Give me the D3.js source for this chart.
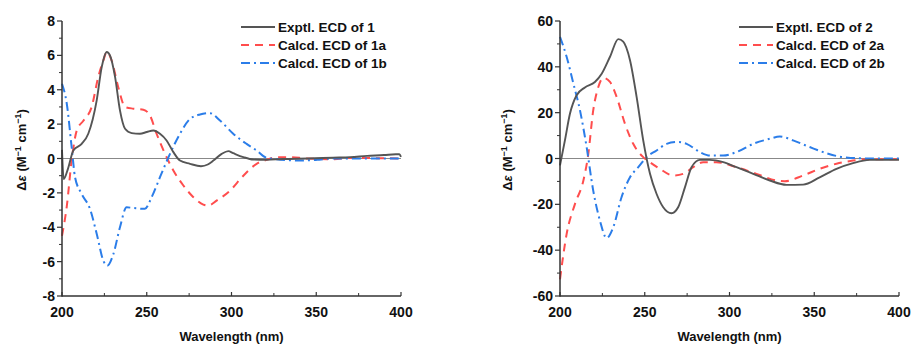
<!DOCTYPE html>
<html><head><meta charset="utf-8">
<script src="https://cdn.jsdelivr.net/npm/d3@7"></script>
<style>
body{margin:0;background:#fff;}
text{font-family:"Liberation Sans",Arial,sans-serif;font-weight:bold;fill:#111;}
</style></head>
<body><svg id="c" width="913" height="345"></svg>
<script>
// ---- Data (wavelength nm, Δε) ----
const exp1 = [[200,0.5],[201,-1.2],[203.5,-0.6],[206.7,0.47],[211.6,0.85],[215.5,1.44],[220.5,3.4],[223.4,5.3],[226.4,6.2],[228.3,6.0],[231.3,4.75],[234.2,2.8],[237.2,1.73],[241.1,1.48],[246,1.44],[250,1.54],[253.9,1.63],[257.8,1.44],[261.7,1.05],[265.7,0.37],[269.6,-0.12],[275.5,-0.31],[282,-0.45],[286,-0.35],[289.3,-0.12],[294.2,0.27],[298.1,0.43],[301,0.31],[307,0.08],[312.9,-0.06],[320.7,-0.08],[330,-0.03],[345,0.0],[360,0.05],[370,0.08],[380,0.15],[390,0.2],[397,0.25],[399,0.25],[400,0.1]];
const calc1a = [[200,-4.5],[202.8,-2.8],[205.7,-0.1],[208.7,1.63],[212.6,2.2],[217.5,3.0],[221.4,4.75],[224.4,5.7],[226.4,6.2],[229.3,5.7],[233.2,4.15],[237.2,3.0],[242.1,2.9],[248,2.84],[251.9,2.5],[255.8,1.44],[260.8,0.27],[265.7,-0.7],[271.6,-1.57],[277.5,-2.25],[283.4,-2.68],[286.3,-2.74],[291.2,-2.45],[299.1,-1.87],[307,-1.0],[314.8,-0.31],[320.7,-0.08],[326.6,0.08],[334.5,0.08],[344.3,0],[360,-0.04],[370,0.03],[385,0.02],[400,0.0]];
const calc1b = [[200,4.35],[202.8,3.2],[205.7,0.66],[207.7,-1.09],[211.6,-2.06],[216.5,-2.93],[220.5,-4.39],[224.4,-5.95],[226.7,-6.24],[230.3,-5.56],[234.2,-4.0],[238.1,-2.84],[242.1,-2.88],[248.9,-2.93],[252.9,-2.25],[257.8,-1.09],[263.7,0.27],[269.6,1.44],[275.5,2.3],[281.4,2.56],[287.3,2.64],[293.2,2.21],[301,1.44],[308.9,0.85],[314.8,0.47],[320.7,0.04],[326.6,-0.04],[340.4,-0.12],[350.2,-0.08],[360,0],[380,0],[400,0]];
const exp2 = [[200,-3],[202.9,7.9],[205.9,19.6],[209.8,27.6],[214.7,31],[220.6,33.4],[224.6,37],[229.5,44.4],[234.4,52.1],[237.3,51],[241.3,42.9],[245.2,26.9],[249.1,7.9],[253.1,-6.7],[257,-15.5],[260.9,-21.3],[265.8,-23.9],[269.7,-21.3],[273.7,-12.6],[277.6,-3.8],[282.5,-0.6],[288.4,-0.6],[296.3,-1.6],[304.1,-3.8],[314,-6.7],[323.8,-9.6],[333.6,-11.5],[343.4,-11.4],[353.2,-8.2],[363.1,-4.5],[372.9,-2],[382.7,-0.6],[400,-0.6]];
const calc2a = [[200,-52.7],[203.9,-33],[208.8,-19.9],[213.8,-9.6],[216.7,2],[219.6,21],[222.6,31.2],[225.5,35.2],[229.5,33.4],[233.4,26.9],[238.3,15.2],[243.2,6.4],[249.1,0.6],[253,-1.6],[258.9,-4.5],[266.8,-7.4],[272.7,-6.7],[278.6,-3.8],[284.5,-1.6],[292.3,-1.6],[304.1,-3.8],[315.9,-6.7],[327.7,-9.6],[332.6,-9.9],[343.4,-7.4],[353.2,-4.5],[363.1,-2.3],[372.9,-0.9],[382.7,-0.3],[400,-0.3]];
const calc2b = [[200,53.1],[203.9,44.4],[207.9,32.7],[211.8,21],[215.7,5],[219.6,-14],[223.6,-27.2],[227.5,-34.7],[231.4,-30],[236.3,-16.9],[241.3,-8.2],[246.2,-3.8],[251.1,0.6],[257,3.5],[262.9,6.4],[268.8,7.2],[274.7,6.4],[282.5,2.8],[288.4,1.3],[296.3,1.3],[304.1,2.8],[314,6.4],[323.8,8.6],[329.7,9.6],[337.5,7.9],[347.3,5],[357.2,2.3],[367,0.6],[382.7,0],[400,0]];

const xTicks = [200,250,300,350,400];
const yTicks1 = [-8,-6,-4,-2,0,2,4,6,8];
const yTicks2 = [-60,-40,-20,0,20,40,60];
const legend1 = ["Exptl. ECD of 1","Calcd. ECD of 1a","Calcd. ECD of 1b"];
const legend2 = ["Exptl. ECD of 2","Calcd. ECD of 2a","Calcd. ECD of 2b"];

const styles = [
  {color:"#555555", dash:null, width:1.9},
  {color:"#ff4d4d", dash:"8,6", width:2},
  {color:"#2b7de9", dash:"9,4,2,4", width:2}
];

const svg = d3.select("#c");

function panel(cfg){
  const x = d3.scaleLinear().domain([200,400]).range([cfg.x0, cfg.x1]);
  const y = d3.scaleLinear().domain(cfg.yDomain).range([296,21]);
  const g = svg.append("g");

  // zero line
  g.append("line").attr("x1",x(200)).attr("x2",x(400)).attr("y1",y(0)).attr("y2",y(0))
    .attr("stroke","#888").attr("stroke-width",1);

  const line = d3.line().x(d=>x(d[0])).y(d=>y(d[1])).curve(d3.curveMonotoneX);
  // draw calcd first, exptl on top
  [1,2,0].forEach(i=>{
    const st = styles[i];
    g.append("path").datum(cfg.series[i]).attr("d",line).attr("fill","none")
      .attr("stroke",st.color).attr("stroke-width",st.width)
      .attr("stroke-dasharray",st.dash).attr("stroke-linejoin","round");
  });

  // axes
  const step = cfg.yTicks[1]-cfg.yTicks[0];
  const yMinor = d3.range(cfg.yDomain[0]+step/2, cfg.yDomain[1], step);
  const xMinor = d3.range(225, 400, 50);
  const ax = g.append("g").attr("stroke","#333");
  ax.append("line").attr("x1",x(200)).attr("x2",x(400)).attr("y1",y(cfg.yDomain[0])).attr("y2",y(cfg.yDomain[0])).attr("stroke-width",1.5);
  ax.append("line").attr("x1",x(200)).attr("x2",x(200)).attr("y1",y(cfg.yDomain[0])+0.75).attr("y2",y(cfg.yDomain[1])).attr("stroke-width",1.5);
  cfg.yTicks.forEach(t=>{
    ax.append("line").attr("x1",x(200)-5).attr("x2",x(200)).attr("y1",y(t)).attr("y2",y(t)).attr("stroke-width",1.2);
    g.append("text").attr("x",x(200)-7).attr("y",y(t)).attr("dy","0.36em").attr("text-anchor","end")
      .attr("font-size",14).text(t);
  });
  yMinor.forEach(t=>{
    ax.append("line").attr("x1",x(200)-3).attr("x2",x(200)).attr("y1",y(t)).attr("y2",y(t)).attr("stroke-width",1);
  });
  xTicks.forEach(t=>{
    ax.append("line").attr("x1",x(t)).attr("x2",x(t)).attr("y1",y(cfg.yDomain[0])).attr("y2",y(cfg.yDomain[0])-4).attr("stroke-width",1.2);
    g.append("text").attr("x",x(t)).attr("y",317).attr("text-anchor","middle").attr("font-size",14).text(t);
  });
  xMinor.forEach(t=>{
    ax.append("line").attr("x1",x(t)).attr("x2",x(t)).attr("y1",y(cfg.yDomain[0])).attr("y2",y(cfg.yDomain[0])-3).attr("stroke-width",1);
  });

  g.append("text").attr("x",(x(200)+x(400))/2).attr("y",341).attr("text-anchor","middle")
    .attr("font-size",13).text("Wavelength (nm)");

  const yt = g.append("text").attr("transform",`translate(${cfg.titleX},150) rotate(-90)`)
    .attr("text-anchor","middle").attr("font-size",13);
  yt.append("tspan").text("Δ");
  yt.append("tspan").attr("font-style","italic").text("ε");
  yt.append("tspan").text(" (M");
  yt.append("tspan").attr("font-size",9).attr("dy",-5).text("−1");
  yt.append("tspan").attr("dy",5).text(" cm");
  yt.append("tspan").attr("font-size",9).attr("dy",-5).text("−1");
  yt.append("tspan").attr("dy",5).text(")");

  // legend
  cfg.legend.forEach((l,i)=>{
    const ly = 27 + i*18;
    const st = styles[i];
    g.append("line").attr("x1",cfg.legX).attr("x2",cfg.legX+34).attr("y1",ly).attr("y2",ly)
      .attr("stroke",st.color).attr("stroke-width",2).attr("stroke-dasharray",st.dash);
    g.append("text").attr("x",cfg.legX+37).attr("y",ly).attr("dy","0.36em").attr("font-size",13.5).text(l);
  });
}

panel({x0:62, x1:401, yDomain:[-8,8], yTicks:yTicks1, series:[exp1,calc1a,calc1b], legend:legend1, legX:241, titleX:26});
panel({x0:560, x1:899, yDomain:[-60,60], yTicks:yTicks2, series:[exp2,calc2a,calc2b], legend:legend2, legX:739, titleX:512});
</script></body></html>
